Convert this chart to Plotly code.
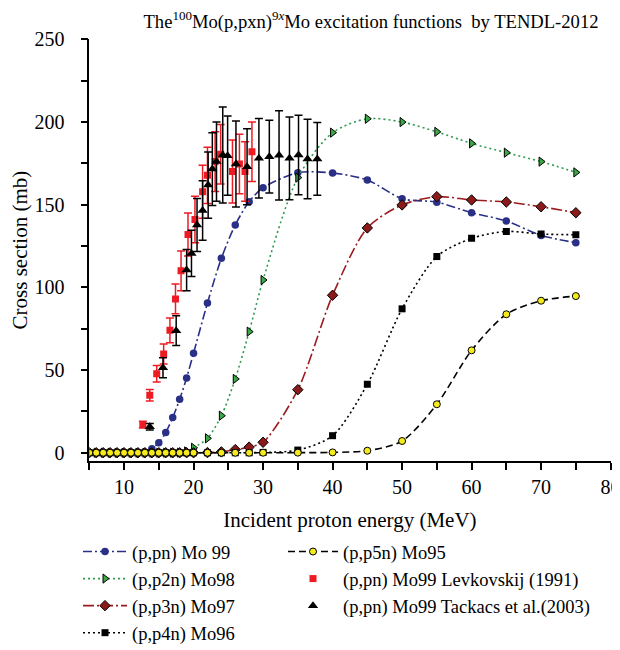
import plotly.graph_objects as go

# TENDL-2012 calculated energies (MeV)
energy = [5, 6, 7, 8, 9, 10, 11, 12, 13, 14, 15, 16, 17, 18, 19, 20,
          22, 24, 26, 28, 30, 35, 40, 45, 50, 55, 60, 65, 70, 75]

mo99 = [0, 0, 0, 0, 0, 0, 0, 0, 0.3, 2.4, 6.0, 12.3, 21.3, 32.3, 45.2, 60.2,
        90.5, 117.5, 137.7, 151.8, 160.2, 169.3, 169.1, 164.9, 153.6, 151.5, 145.1, 140.1, 131.4, 127.0]
mo98 = [0, 0, 0, 0, 0, 0, 0, 0, 0, 0, 0, 0, 0, 0.1, 0.8, 3.0,
        8.7, 22.4, 44.6, 73.2, 104.4, 166.3, 193.5, 201.9, 199.9, 194.0, 187.0, 181.4, 176.0, 169.5]
mo97 = [0, 0, 0, 0, 0, 0, 0, 0, 0, 0, 0, 0, 0, 0, 0, 0,
        0.1, 0.5, 1.9, 3.4, 6.3, 38.1, 95.2, 135.9, 149.8, 154.8, 152.8, 151.6, 148.7, 145.1]
mo96 = [0, 0, 0, 0, 0, 0, 0, 0, 0, 0, 0, 0, 0, 0, 0, 0,
        0, 0, 0, 0, 0.2, 1.6, 10.3, 41.4, 87.0, 118.6, 129.6, 133.8, 132.2, 131.8]
mo95 = [0, 0, 0, 0, 0, 0, 0, 0, 0, 0, 0, 0, 0, 0, 0, 0,
        0, 0, 0, 0, 0, 0.05, 0.2, 1.2, 7.1, 29.3, 61.9, 83.7, 91.9, 94.7]

# Experimental: Levkovskij (1991)
lev_e = [12.7, 13.7, 14.7, 15.7, 16.6, 17.4, 18.2, 19.2, 20.2, 21.3, 22.0, 23.1, 23.9, 25.6, 26.6, 27.4, 28.4]
lev_v = [17.0, 34.8, 47.8, 59.7, 74.0, 93.0, 110.0, 132.0, 141.0, 157.8, 167.7, 176.0, 180.4, 170.0, 174.6, 170.0, 182.0]
lev_err = [2, 3.5, 5, 6, 7.5, 9, 12, 13, 14, 16, 17, 18, 18, 19, 18, 18, 18]

# Experimental: Tackacs et al. (2003)
tak_e = [13.7, 15.6, 17.5, 19.0, 19.7, 20.5, 21.3, 22.1, 22.7, 23.3, 24.2, 24.9, 26.1, 27.7,
         29.4, 30.9, 32.3, 33.8, 35.1, 36.4, 37.8]
tak_v = [15.7, 51.4, 73.8, 110.4, 120.5, 137.7, 146.5, 161.8, 171.5, 176.0, 180.0, 179.6, 174.5, 172.9,
         178.0, 179.0, 179.8, 178.0, 180.0, 177.6, 177.6]
tak_err = [2, 6, 9, 12.5, 14, 16, 18, 20, 22, 24, 29, 24, 26, 23, 24, 22, 27, 25, 24, 24, 22]

FONT = "Liberation Serif, 'Times New Roman', serif"
# page body has an 8px margin, so the figure is 8px smaller than the window
W, H = 612, 642

fig = go.Figure()

def calc(name, y, color, dash, symbol, mcolor, msize, legend, outline=1):
    fig.add_trace(go.Scatter(
        x=energy, y=y, name=name, mode="lines+markers", legend=legend,
        line=dict(color=color, width=1.6, dash=dash, shape="spline", smoothing=0.8),
        marker=dict(symbol=symbol, color=mcolor, size=msize,
                    line=dict(color="black", width=outline)),
    ))

calc("(p,pn) Mo 99", mo99, "#2b3087", "9px,3px,2px,3px", "circle", "#2b3087", 7.5, "legend", 0)
calc("(p,p2n) Mo98", mo98, "#2f9a50", "2px,3px", "triangle-right", "#3aa845", 8, "legend")
calc("(p,p3n) Mo97", mo97, "#9b1c1f", "11px,3px,2px,3px", "diamond", "#8b1a1a", 8, "legend")
calc("(p,p4n) Mo96", mo96, "black", "2px,3px", "square", "black", 7, "legend", 0)
calc("(p,p5n) Mo95", mo95, "black", "7px,4px", "circle", "#f4ea1c", 7, "legend2")

fig.add_trace(go.Scatter(
    x=lev_e, y=lev_v, name="(p,pn) Mo99 Levkovskij (1991)", mode="markers", legend="legend2",
    marker=dict(symbol="square", color="#ed1c24", size=7),
    error_y=dict(type="data", array=lev_err, color="#ed1c24", thickness=1.5, width=4),
))
fig.add_trace(go.Scatter(
    x=tak_e, y=tak_v, name="(p,pn) Mo99 Tackacs et al.(2003)", mode="markers", legend="legend2",
    marker=dict(symbol="triangle-up", color="black", size=9),
    error_y=dict(type="data", array=tak_err, color="black", thickness=1.5, width=4),
))

axis_common = dict(showline=True, linecolor="black", linewidth=1.5, ticks="outside",
                   ticklen=7, tickwidth=1.5, tickcolor="black", showgrid=False, zeroline=False,
                   automargin=False, ticklabeloverflow="allow",
                   tickfont=dict(family=FONT, size=20, color="black"))

fig.update_layout(
    width=W, height=H,
    margin=dict(l=0, r=0, t=0, b=0, autoexpand=False),
    paper_bgcolor="white", plot_bgcolor="white",
    font=dict(family=FONT, size=20, color="black"),
    title=dict(text="The<sup>100</sup>Mo(p,pxn)<sup>9<i>x</i></sup>Mo excitation functions  by TENDL-2012",
               x=363 / W, xanchor="center", xref="container",
               y=1 - 13.5 / H, yanchor="middle", yref="container", automargin=False,
               font=dict(family=FONT, size=18.6, color="black")),
    xaxis=dict(domain=[81.3 / W, 602.6 / W], range=[5, 80], dtick=10, tick0=0,
               minor=dict(dtick=5, ticks="outside", ticklen=7, tickwidth=1.5, tickcolor="black"),
               title=dict(text="Incident proton energy (MeV)", font=dict(family=FONT, size=21), standoff=16),
               ticklabelstandoff=0,
               **axis_common),
    yaxis=dict(domain=[(H - 453) / H, (H - 31.2) / H], range=[-5, 250], dtick=50, tick0=0,
               minor=dict(dtick=25, ticks="outside", ticklen=7, tickwidth=1.5, tickcolor="black"),
               title=dict(text="Cross section (mb)", font=dict(family=FONT, size=21), standoff=12),
               ticklabelstandoff=12,
               **axis_common),
    legend=dict(x=70 / W, y=1 - 525 / H, xanchor="left", yanchor="top",
                bgcolor="rgba(0,0,0,0)", font=dict(family=FONT, size=18.5), tracegroupgap=0,
                itemwidth=44),
    legend2=dict(x=275 / W, y=1 - 525 / H, xanchor="left", yanchor="top",
                 bgcolor="rgba(0,0,0,0)", font=dict(family=FONT, size=18.5), tracegroupgap=0,
                 itemwidth=50),
    showlegend=True,
)

fig.write_html("out.html")
